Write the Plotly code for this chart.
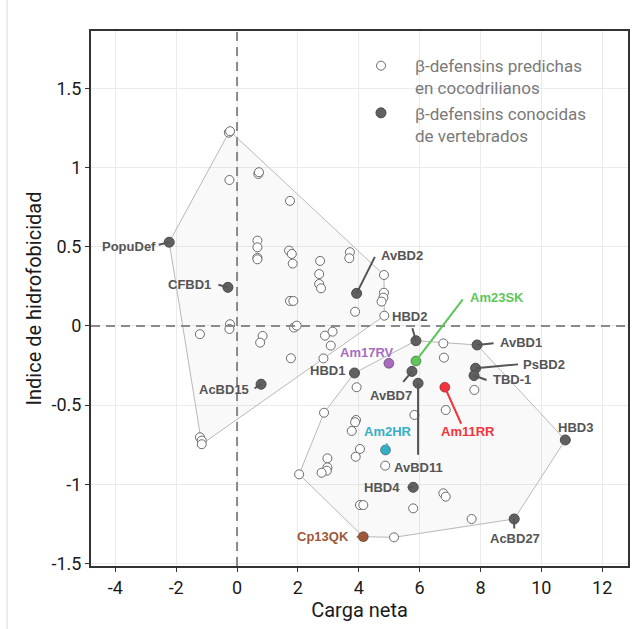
import plotly.graph_objects as go

# ---------------- data ----------------
# predicted crocodilian beta-defensins, upper cluster
pred1_x = [-0.27, -0.23, -0.25, 0.70, 0.72, 1.74, 0.67, 0.67, 0.67, 0.67, 1.71, 1.80, 1.83,
           2.73, 2.70, 2.70, 2.76, 3.71, 3.69, 4.83, 4.83, 4.81, 4.75, 3.88, 4.84, 1.74, 1.85,
           1.87, 1.96, 2.89, 3.14, 3.08, 2.84, 1.77, -1.22, -0.23, -0.25, 0.84, 0.76,
           -1.22, -1.16, -1.16]
pred1_y = [1.221, 1.230, 0.922, 0.960, 0.971, 0.790, 0.539, 0.497, 0.431, 0.421, 0.476, 0.455, 0.394,
           0.411, 0.328, 0.265, 0.238, 0.466, 0.428, 0.322, 0.210, 0.179, 0.154, 0.090, 0.065, 0.158, 0.158,
           -0.010, 0.002, -0.061, -0.036, -0.124, -0.205, -0.204, -0.052, 0.011, -0.019, -0.063, -0.105,
           -0.703, -0.724, -0.747]
# predicted crocodilian beta-defensins, lower cluster
pred2_x = [3.93, 2.86, 3.91, 3.88, 3.77, 4.04, 3.90, 2.97, 2.97, 2.95, 2.78, 2.04, 4.87, 5.83,
           4.04, 4.15, 5.79, 6.78, 6.86, 5.16, 6.86, 6.78, 6.80, 7.80, 7.71]
pred2_y = [-0.387, -0.548, -0.594, -0.608, -0.663, -0.777, -0.826, -0.836, -0.893, -0.914, -0.927, -0.937,
           -0.882, -0.562, -1.131, -1.131, -1.152, -1.057, -1.078, -1.335, -0.531, -0.110, -0.200, -0.404, -1.219]

# known vertebrate beta-defensins
ref_names = ["PopuDef", "CFBD1", "AcBD15", "AvBD2", "HBD2", "HBD1", "Am17RV", "Am23SK", "AvBD7",
             "AvBD11", "AvBD1", "PsBD2", "TBD-1", "Am11RR", "HBD3", "AcBD27", "HBD4", "Am2HR", "Cp13QK"]
ref_x = [-2.23, -0.30, 0.79, 3.93, 5.88, 3.86, 4.99, 5.88, 5.75,
         5.95, 7.89, 7.84, 7.79, 6.83, 10.79, 9.11, 5.79, 4.88, 4.15]
ref_y = [0.529, 0.244, -0.368, 0.206, -0.093, -0.297, -0.236, -0.221, -0.287,
         -0.362, -0.120, -0.267, -0.313, -0.387, -0.720, -1.219, -1.019, -0.783, -1.331]
ref_cluster = [1, 1, 1, 1, 2, 2, 2, 2, 2, 2, 2, 2, 2, 2, 2, 2, 2, 2, 2]

x_ticks = [-4, -2, 0, 2, 4, 6, 8, 10, 12]
x_ticktext = ["-4", "-2", "0", "2", "4", "6", "8", "10", "12"]
y_ticks = [-1.5, -1, -0.5, 0, 0.5, 1, 1.5]
y_ticktext = ["-1.5", "-1", "-0.5", "0", "0.5", "1", "1.5"]

legend_names = ["β-defensins predichas<br>en cocodrilianos", "β-defensins conocidas<br>de vertebrados"]

# ---------------- styles ----------------
GRAY_PT = "#606060"
LABEL_GRAY = "#555555"
highlight = {"Am17RV": "#a86cbf", "Am23SK": "#5cc65a", "Am11RR": "#f2343c",
             "Am2HR": "#35afc8", "Cp13QK": "#9c5838"}
# label placement: text offset (dx, dy) and segment end offset (sx, sy), pixels, y down
label_pos = {
    "PopuDef": ((-40, 4), (-12, 3)),
    "CFBD1": ((-38, -3), (-11, -3)),
    "AcBD15": ((-37, 5), (-8, 5)),
    "AvBD2": ((45, -38), (19, -38)),
    "HBD2": ((-6, -24), (-4, -14)),
    "HBD1": ((-27, -2), None),
    "Am17RV": ((-22, -11), None),
    "Am23SK": ((81, -63), (48, -63)),
    "AvBD7": ((-21, 24), (-10, 12)),
    "AvBD11": ((0, 84), (0, 73)),
    "AvBD1": ((44, -2), (18, -2)),
    "PsBD2": ((68, -4), (44, -4)),
    "TBD-1": ((38, 4), (14, 5)),
    "Am11RR": ((23, 44), (17, 38)),
    "HBD3": ((10, -12), None),
    "AcBD27": ((1, 20), (0, 11)),
    "HBD4": ((-31, 0), (-7, 0)),
    "Am2HR": ((2, -18), (2, -8)),
    "Cp13QK": ((-40, 0), (-8, 0)),
}


def convex_hull(xs, ys):
    pts = sorted(set(zip(xs, ys)))

    def cross(o, a, b):
        return (a[0] - o[0]) * (b[1] - o[1]) - (a[1] - o[1]) * (b[0] - o[0])

    lower, upper = [], []
    for p in pts:
        while len(lower) >= 2 and cross(lower[-2], lower[-1], p) <= 0:
            lower.pop()
        lower.append(p)
    for p in reversed(pts):
        while len(upper) >= 2 and cross(upper[-2], upper[-1], p) <= 0:
            upper.pop()
        upper.append(p)
    hull = lower[:-1] + upper[:-1]
    hull.append(hull[0])
    return [p[0] for p in hull], [p[1] for p in hull]


fig = go.Figure()

# hulls
for cl, px, py in [(1, pred1_x, pred1_y), (2, pred2_x, pred2_y)]:
    hx = list(px) + [x for x, c in zip(ref_x, ref_cluster) if c == cl]
    hy = list(py) + [y for y, c in zip(ref_y, ref_cluster) if c == cl]
    cx, cy = convex_hull(hx, hy)
    fig.add_trace(go.Scatter(x=cx, y=cy, mode="lines", fill="toself",
                             fillcolor="rgba(0,0,0,0.025)",
                             line=dict(color="#b8b8b8", width=1),
                             showlegend=False, hoverinfo="skip"))

# predicted (open circles)
fig.add_trace(go.Scatter(x=pred1_x + pred2_x, y=pred1_y + pred2_y, mode="markers",
                         name=legend_names[0],
                         marker=dict(size=9, color="white", line=dict(color="#6a6a6a", width=1))))

# known (filled gray)
gx = [x for n, x in zip(ref_names, ref_x) if n not in highlight]
gy = [y for n, y in zip(ref_names, ref_y) if n not in highlight]
fig.add_trace(go.Scatter(x=gx, y=gy, mode="markers", name=legend_names[1],
                         marker=dict(size=10, color=GRAY_PT, line=dict(color="#4a4a4a", width=1))))

# highlighted
hx = [x for n, x in zip(ref_names, ref_x) if n in highlight]
hy = [y for n, y in zip(ref_names, ref_y) if n in highlight]
hc = [highlight[n] for n in ref_names if n in highlight]
fig.add_trace(go.Scatter(x=hx, y=hy, mode="markers", showlegend=False,
                         marker=dict(size=10, color=hc, line=dict(color="rgba(0,0,0,0.35)", width=1))))

# labels
annotations = []
for n, x, y in zip(ref_names, ref_x, ref_y):
    col = highlight.get(n, LABEL_GRAY)
    (tdx, tdy), seg = label_pos[n]
    if seg is not None:
        annotations.append(dict(x=x, y=y, xref="x", yref="y", text="", showarrow=True,
                                arrowhead=0, arrowwidth=2, arrowcolor=col,
                                ax=seg[0], ay=seg[1], standoff=0, startstandoff=0))
    annotations.append(dict(x=x, y=y, xref="x", yref="y", text=n, showarrow=False,
                            xshift=tdx, yshift=-tdy, xanchor="center", yanchor="middle",
                            font=dict(family="Liberation Sans", size=13, color=col, weight=700)))

fig.update_layout(
    width=642, height=629,
    margin=dict(l=91, r=14, t=31, b=63, autoexpand=False),
    paper_bgcolor="white", plot_bgcolor="white",
    annotations=annotations,
    showlegend=True,
    legend=dict(x=0.4767, y=0.968, xanchor="left", yanchor="top", itemwidth=58,
                font=dict(family="Roboto", size=17, color="#7a7a7a"),
                bgcolor="rgba(0,0,0,0)", tracegroupgap=2, valign="top"),
    shapes=[
        dict(type="line", xref="x", yref="paper", x0=0, x1=0, y0=0, y1=1,
             line=dict(color="#8a8a8a", width=2, dash="9px,6px"), layer="above"),
        dict(type="line", xref="paper", yref="y", x0=0, x1=1, y0=0, y1=0,
             line=dict(color="#8a8a8a", width=2, dash="9px,6px"), layer="above"),
        dict(type="line", xref="paper", yref="paper", x0=-0.1564, x1=-0.1564, y0=-0.12, y1=1.06,
             line=dict(color="#d9d9d9", width=1)),
    ],
)

fig.update_xaxes(range=[-4.8, 12.85], tickvals=x_ticks, ticktext=x_ticktext,
                 showgrid=True, gridcolor="#ebebeb", gridwidth=1, zeroline=False,
                 showline=True, mirror=True, linecolor="#333333", linewidth=2,
                 ticks="outside", ticklen=4, tickcolor="#333333", tickwidth=1,
                 automargin=False,
                 tickfont=dict(family="Roboto", size=18, color="#1a1a1a"),
                 title=dict(text="Carga neta", font=dict(family="Roboto", size=20, color="#1a1a1a"),
                            standoff=4))
fig.update_yaxes(range=[-1.516, 1.863], tickvals=y_ticks, ticktext=y_ticktext,
                 showgrid=True, gridcolor="#ebebeb", gridwidth=1, zeroline=False,
                 showline=True, mirror=True, linecolor="#333333", linewidth=2,
                 ticks="outside", ticklen=4, tickcolor="#333333", tickwidth=1,
                 automargin=False,
                 tickfont=dict(family="Roboto", size=18, color="#1a1a1a"),
                 title=dict(text="Indice de hidrofobicidad",
                            font=dict(family="Roboto", size=20, color="#1a1a1a"), standoff=4))

fig.write_html("out.html")
